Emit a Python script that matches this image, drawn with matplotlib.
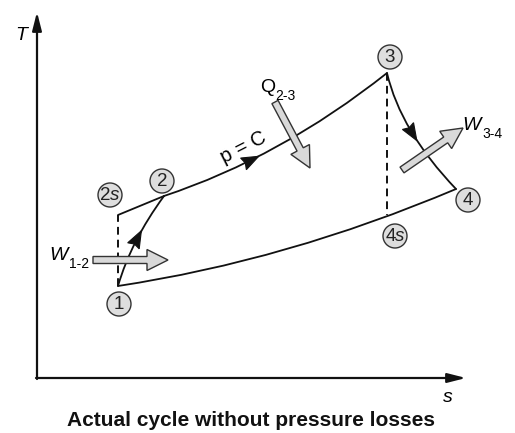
import numpy as np
import matplotlib.pyplot as plt
from matplotlib.path import Path
from matplotlib.patches import PathPatch, FancyArrow, Circle, Polygon

plt.rcParams['font.family'] = ['Liberation Sans', 'DejaVu Sans']

# state points (s, T), origin at the corner of the axes
labels = ['1', '2s', '2', '3', '4s', '4']
s_pts = [81, 81, 127, 350, 350, 419]
T_pts = [92, 163, 182, 305, 163, 189]
pt = {k: (s, t) for k, s, t in zip(labels, s_pts, T_pts)}

# process curves: start, control point, end (quadratic curves)
curves = [
    ('1', (94, 137), '2'),
    ('2s', None, '2'),
    ('2', (243.5, 220.5), '3'),
    ('3', (363.5, 247), '4'),
    ('4', (250, 117.5), '1'),
]
# flow arrowheads: curve index, position along curve
flow_marks = [(0, 0.53), (2, 0.38), (3, 0.52)]

# circle label positions
circ_labels = ['1', '2s', '2', '3', '4s', '4']
circ_s = [82, 73, 125, 353, 358, 431]
circ_T = [74, 183, 197, 321, 142, 178]

# block arrows: (tail, tip)
w12 = ((56, 118), (131, 118))
q23 = ((238, 276), (273, 210))
w34 = ((365, 208), (426, 250))

fig = plt.figure(figsize=(5.15, 4.33), dpi=100)
ax = fig.add_axes([0, 0, 1, 1])
ax.set_xlim(-37, 478)
ax.set_ylim(-55, 378)
ax.axis('off')

# axes with arrows
ax.annotate('', xy=(0, 366), xytext=(0, -1),
            arrowprops=dict(arrowstyle='-|>,head_length=1.1,head_width=0.28',
                            lw=1.6, color='#111111', shrinkA=0, shrinkB=0))
ax.annotate('', xy=(429, 0), xytext=(-1, 0),
            arrowprops=dict(arrowstyle='-|>,head_length=1.1,head_width=0.28',
                            lw=1.6, color='#111111', shrinkA=0, shrinkB=0))


def bez(p0, c, p2, t):
    p0, c, p2 = np.array(p0), np.array(c), np.array(p2)
    pos = (1 - t) ** 2 * p0 + 2 * t * (1 - t) * c + t ** 2 * p2
    d = 2 * (1 - t) * (c - p0) + 2 * t * (p2 - c)
    return pos, d / np.linalg.norm(d)


for a, c, b in curves:
    p0, p2 = pt[a], pt[b]
    if c is None:
        path = Path([p0, p2], [Path.MOVETO, Path.LINETO])
    else:
        path = Path([p0, c, p2], [Path.MOVETO, Path.CURVE3, Path.CURVE3])
    ax.add_patch(PathPatch(path, fill=False, lw=1.3, ec='#111111', capstyle='round'))

for i, t in flow_marks:
    a, c, b = curves[i]
    pos, d = bez(pt[a], c, pt[b], t)
    n = np.array([-d[1], d[0]])
    L, W = 17, 13
    tip = pos + d * L / 2
    back = pos - d * L / 2
    notch = pos - d * L * 0.38
    ax.add_patch(Polygon([tip, back + n * W / 2, notch, back - n * W / 2],
                         closed=True, fc='#111111', ec='#111111', lw=0.8))

# isentropic reference lines
ax.plot([pt['1'][0], pt['2s'][0]], [pt['1'][1], pt['2s'][1]], ls=(0, (4, 2.6)),
        lw=1.4, color='#111111')
ax.plot([pt['3'][0], pt['4s'][0]], [pt['3'][1], pt['4s'][1]], ls=(0, (4, 2.6)),
        lw=1.4, color='#111111')

# block arrows
for tail, tip in [w12, q23, w34]:
    dx, dy = tip[0] - tail[0], tip[1] - tail[1]
    ax.add_patch(FancyArrow(tail[0], tail[1], dx, dy, width=7, head_width=21,
                            head_length=21, length_includes_head=True,
                            fc='#d9d9d9', ec='#333333', lw=1.0, zorder=3))

# state labels in circles
for lab, s, t in zip(circ_labels, circ_s, circ_T):
    ax.add_patch(Circle((s, t), 12, fc='#dedede', ec='#333333', lw=1.0, zorder=4))
    if lab.endswith('s'):
        ax.text(s - 4.5, t - 0.5, lab[0], fontsize=13.5, ha='center', va='center',
                color='#222222', zorder=5)
        ax.text(s + 5, t - 0.5, 's', fontsize=13.5, style='italic', ha='center',
                va='center', color='#222222', zorder=5)
    else:
        ax.text(s, t - 0.5, lab, fontsize=13.5, ha='center', va='center',
                color='#222222', zorder=5)

# text labels
ax.text(-16, 343, 'T', fontsize=14, style='italic', ha='center', va='center')
ax.text(411, -19, 's', fontsize=14, style='italic', ha='center', va='center')
ax.text(206, 231, 'p = C', fontsize=14.5, rotation=27, ha='center', va='center',
        rotation_mode='anchor')

ax.text(22, 123, 'W', fontsize=14, style='italic', ha='center', va='center')
ax.text(42, 114, '1-2', fontsize=10, ha='center', va='center')
ax.text(231, 290, 'Q', fontsize=14, ha='center', va='center')
ax.text(248, 282, '2-3', fontsize=10, ha='center', va='center')
ax.text(435, 253, 'W', fontsize=14, style='italic', ha='center', va='center')
ax.text(455, 244, '3-4', fontsize=10, ha='center', va='center')

ax.text(214, -42, 'Actual cycle without pressure losses', fontsize=15,
        fontweight='bold', ha='center', va='center', color='#111111')

fig.savefig('out.png', dpi=100)
